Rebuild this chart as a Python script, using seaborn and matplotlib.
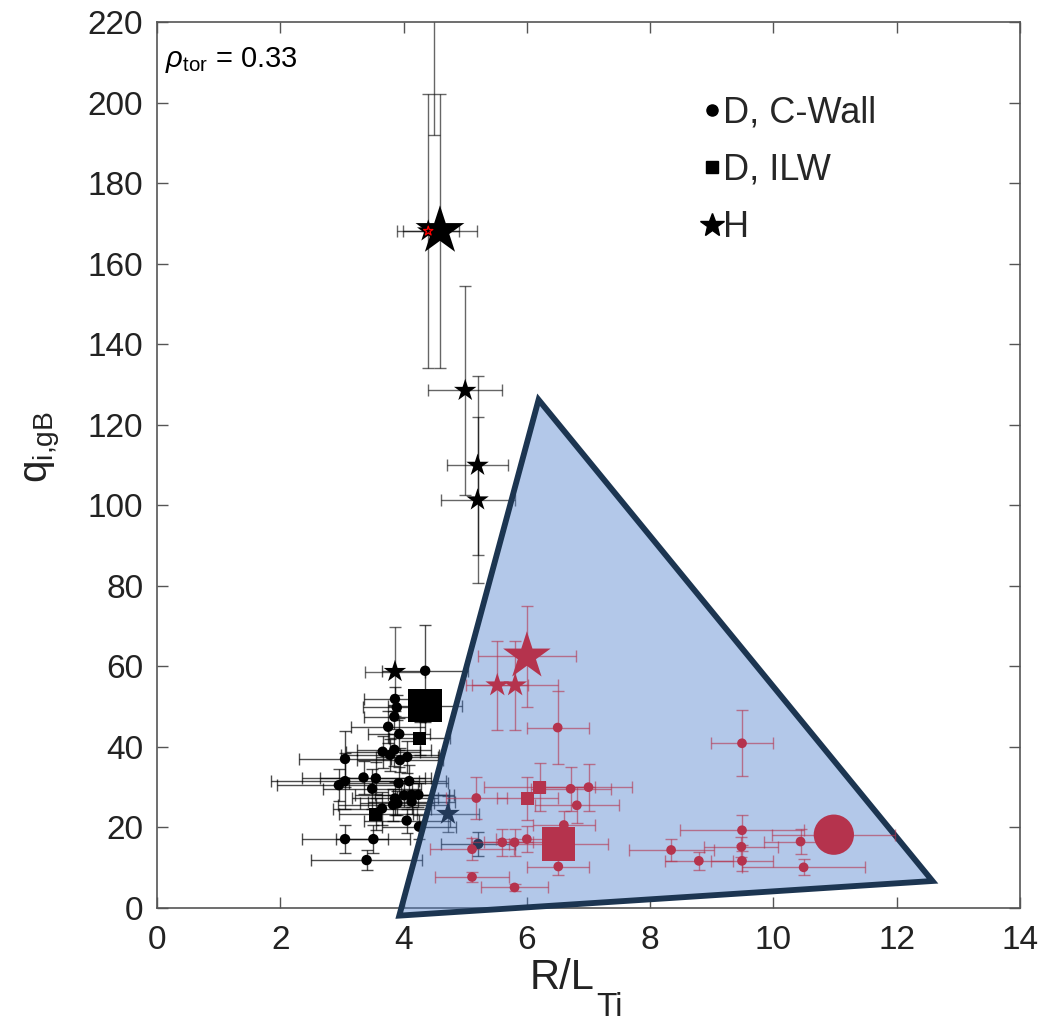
import numpy as np
import pandas as pd
import matplotlib
matplotlib.use("Agg")
import matplotlib.pyplot as plt
from matplotlib.lines import Line2D
import seaborn as sns

# ---- D, C-Wall (black circles) ----
cw_x = [4.35, 3.86, 3.89, 3.85, 3.75, 3.93, 3.05, 3.66, 3.85, 3.78, 4.06, 3.94,
        3.35, 3.05, 2.95, 3.55, 3.49, 4.09, 3.92, 3.86, 4.01, 4.13, 4.24, 3.90,
        4.13, 3.83, 3.65, 4.05, 4.25, 3.05, 3.51, 3.40, 5.21]
cw_y = [58.9, 51.9, 49.8, 47.5, 45.0, 43.2, 37.0, 38.8, 39.3, 38.0, 37.5, 36.7,
        32.4, 31.5, 30.5, 32.2, 29.6, 31.5, 31.0, 27.2, 28.0, 28.1, 28.1, 26.0,
        26.4, 25.6, 24.7, 21.7, 20.2, 17.1, 17.1, 11.9, 15.9]
cw_xerr = [0.70, 0.50, 0.55, 0.50, 0.60, 0.50, 0.75, 0.60, 0.60, 0.80, 0.50, 0.70,
           1.00, 1.20, 1.00, 0.90, 0.80, 0.60, 0.80, 0.70, 0.80, 0.60, 0.50, 0.60,
           0.70, 0.90, 0.80, 0.70, 0.60, 0.70, 0.60, 0.90, 0.60]
cw_yerr = [11.4, 3.0, 3.0, 3.0, 4.0, 4.0, 7.0, 4.0, 4.0, 4.0, 4.0, 3.0,
           4.0, 7.0, 4.0, 4.0, 5.0, 4.0, 4.0, 4.0, 3.0, 3.0, 3.0, 3.0,
           3.0, 4.0, 4.0, 3.0, 3.0, 3.5, 3.5, 2.5, 3.0]

# ---- D, ILW (black squares) ----
ilw_x = [4.35, 4.26, 3.55]
ilw_y = [50.2, 42.1, 23.3]
ilw_xerr = [0.60, 0.50, 0.60]
ilw_yerr = [4.0, 4.0, 4.0]
ilw_size = [24, 9.5, 9.5]

# ---- H (black stars) ----
h_x = [4.40, 4.59, 5.00, 5.20, 5.20, 3.86, 4.72, 4.50]
h_y = [168.1, 168.1, 128.5, 109.9, 101.3, 58.7, 23.4, 240.0]
h_xerr = [0.50, 0.60, 0.60, 0.50, 0.60, 0.48, 0.50, 0.0]
h_yerr = [34.0, 34.0, 26.0, 22.2, 20.5, 11.0, 4.5, 48.0]
h_size = [17, 37, 17, 17, 17, 17, 18, 17]

# ---- modelled cases (red) ----
rc_x = [6.50, 9.49, 5.18, 6.71, 7.00, 6.81, 6.60, 6.51, 6.00, 5.80, 5.60, 5.11,
        5.11, 5.80, 8.34, 8.79, 9.49, 9.48, 9.49, 10.44, 10.49, 10.98]
rc_y = [44.8, 40.9, 27.3, 29.6, 30.0, 25.5, 20.6, 10.3, 17.1, 16.3, 16.3, 14.6,
        7.7, 5.1, 14.4, 11.7, 19.3, 15.2, 11.7, 16.5, 10.1, 18.2]
rc_xerr = [0.50, 0.50, 0.50, 0.65, 0.70, 0.68, 0.50, 0.50, 0.50, 0.50, 0.50, 0.68,
           0.60, 0.55, 0.69, 0.55, 1.00, 0.60, 0.50, 0.60, 1.00, 1.00]
rc_yerr = [9.0, 8.2, 5.3, 5.5, 5.8, 4.5, 3.5, 2.0, 3.3, 3.3, 3.3, 2.7,
           1.2, 0.8, 2.7, 2.2, 3.7, 2.5, 2.5, 3.2, 2.0, 0.0]
rc_size = [7] * 21 + [29]

rs_x = [6.01, 6.21, 6.51]
rs_y = [27.2, 30.0, 15.9]
rs_xerr = [0.50, 0.90, 0.80]
rs_yerr = [5.4, 6.0, 0.0]
rs_size = [9.5, 9.5, 24]

rh_x = [6.00, 5.52, 5.81]
rh_y = [62.5, 55.3, 55.3]
rh_xerr = [0.80, 0.50, 0.70]
rh_yerr = [12.5, 11.0, 11.0]
rh_size = [36, 18, 18]

# highlighted H case
hl_x = [4.40]
hl_y = [168.1]

# region enclosing the modelled cases
tri_x = [3.93, 6.19, 12.58]
tri_y = [-1.9, 126.2, 6.7]

x_ticks = [0, 2, 4, 6, 8, 10, 12, 14]
y_ticks = [0, 20, 40, 60, 80, 100, 120, 140, 160, 180, 200, 220]

RED = "#b5334d"
NAVY = "#1c3551"
FILL = "#5282cd"

sns.set_theme(style="ticks")
plt.rcParams["font.family"] = ["Liberation Sans", "DejaVu Sans"]
plt.rcParams["mathtext.fontset"] = "custom"
plt.rcParams["mathtext.rm"] = "Liberation Sans"
plt.rcParams["mathtext.it"] = "Liberation Sans:italic"
plt.rcParams["mathtext.bf"] = "Liberation Sans:bold"

fig = plt.figure(figsize=(10.56, 10.24), dpi=100)
ax = fig.add_axes([0.1487, 0.1133, 0.8172, 0.8652])


def pts_scatter(xs, ys, marker, sizes, color, z, ec="none", fc=None):
    df = pd.DataFrame({"x": xs, "y": ys, "s": [m ** 2 for m in sizes]})
    sns.scatterplot(data=df, x="x", y="y", marker=marker, s=df["s"].to_numpy(),
                    color=color if fc is None else fc, edgecolor=ec,
                    linewidth=0 if ec == "none" else 0.9, ax=ax, zorder=z,
                    legend=False)


def err(xs, ys, xe, ye, color, alpha, z):
    ax.errorbar(xs, ys, xerr=xe, yerr=ye, fmt="none", ecolor=color, alpha=alpha,
                elinewidth=1.0, capsize=4, capthick=1.0, zorder=z)


# experimental data
err(cw_x, cw_y, cw_xerr, cw_yerr, "black", 0.7, 2)
err(ilw_x, ilw_y, ilw_xerr, ilw_yerr, "black", 0.7, 2)
err(h_x, h_y, h_xerr, h_yerr, "black", 0.6, 2)
pts_scatter(cw_x, cw_y, "o", [7.5] * len(cw_x), "black", 3)
pts_scatter(ilw_x, ilw_y, "s", ilw_size, "black", 3)
pts_scatter(h_x, h_y, "*", h_size, "black", 3)

# enclosing triangle
ax.fill(tri_x, tri_y, facecolor=FILL, alpha=0.44, edgecolor="none",
        zorder=4, clip_on=False)
ax.fill(tri_x, tri_y, facecolor="none", edgecolor=NAVY, linewidth=4.2,
        joinstyle="miter", zorder=5, clip_on=False)

# modelled cases
err(rc_x, rc_y, rc_xerr, rc_yerr, RED, 0.6, 6)
err(rs_x, rs_y, rs_xerr, rs_yerr, RED, 0.6, 6)
err(rh_x, rh_y, rh_xerr, rh_yerr, RED, 0.6, 6)
pts_scatter(rc_x, rc_y, "o", rc_size, RED, 7)
pts_scatter(rs_x, rs_y, "s", rs_size, RED, 7)
pts_scatter(rh_x, rh_y, "*", rh_size, RED, 7)
pts_scatter(hl_x, hl_y, "*", [7], RED, 8, ec="red", fc="none")

ax.set_xlim(0, 14)
ax.set_ylim(0, 220)
ax.set_xticks(x_ticks)
ax.set_yticks(y_ticks)
ax.set_xticklabels([str(v) for v in x_ticks])
ax.set_yticklabels([str(v) for v in y_ticks])
ax.tick_params(direction="in", length=8, width=1, color="#555555",
               top=True, right=True, labelsize=24, labelcolor="#222222")
ax.tick_params(axis="y", pad=10)
ax.tick_params(axis="x", pad=12)
for sp in ax.spines.values():
    sp.set_color("#555555")
    sp.set_linewidth(1.2)
    sp.set_visible(True)

# axis labels
ax.set_xlabel("")
ax.set_ylabel(r"q$_{\mathrm{i{,}gB}}$", fontsize=29, color="#222222")
ax.yaxis.set_label_coords(-0.11, 0.52)
ax.text(0.469, -0.057, "R/L", transform=ax.transAxes, fontsize=30,
        color="#222222", ha="center", va="top")
ax.text(0.509, -0.095, "Ti", transform=ax.transAxes, fontsize=24,
        color="#222222", ha="left", va="top")

ax.text(0.009, 0.957, r"$\rho_{\mathrm{tor}}$ = 0.33", transform=ax.transAxes,
        fontsize=21, color="black", ha="left", va="center")

handles = [
    Line2D([], [], marker="o", color="black", ls="none", markersize=8),
    Line2D([], [], marker="s", color="black", ls="none", markersize=8.5),
    Line2D([], [], marker="*", color="black", ls="none", markersize=18),
]
ax.legend(handles, ["D, C-Wall", "D, ILW", "H"], loc="upper left",
          bbox_to_anchor=(0.633, 0.917), frameon=False, fontsize=26,
          handlelength=0.5, handletextpad=0.05, labelspacing=0.62,
          borderpad=0, borderaxespad=0)

fig.savefig("out.png", dpi=100)
